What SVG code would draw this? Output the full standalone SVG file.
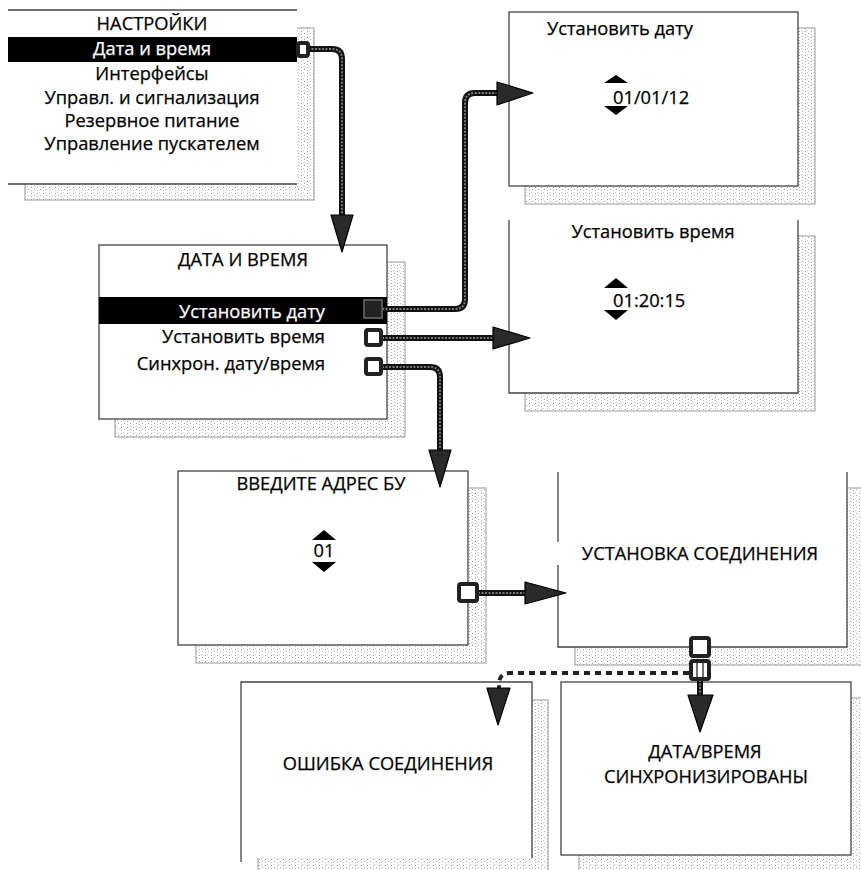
<svg xmlns="http://www.w3.org/2000/svg" width="861" height="870" viewBox="0 0 861 870">
<style>
  .t{font-family:"Open Sans","Liberation Sans",sans-serif;font-size:18.3px;fill:#000;stroke:#000;stroke-width:0.25}
  .tt{font-family:"Open Sans","Liberation Sans",sans-serif;font-size:18.3px;fill:#000;stroke:#000;stroke-width:0.25}
  .w{fill:#fff;stroke:#fff}
  .mid{text-anchor:middle}
  .end{text-anchor:end}
  .box{fill:#fff;stroke:#444;stroke-width:1.3}
  .bg{fill:#fff;stroke:none}
  .edge{fill:none;stroke:#444;stroke-width:1.3}
  .shadow{fill:url(#dots);stroke:#999;stroke-width:1}
  .bar{fill:#000}
  .tri{fill:#000}
  .lineO{fill:none;stroke:#111;stroke-width:6;stroke-linejoin:round}
  .lineI{fill:none;stroke:#777;stroke-width:2;stroke-dasharray:2 1.5}
  .head{fill:#2a2a2a;stroke:#000;stroke-width:1.2;stroke-linejoin:round}
  .hdl{fill:#fff;stroke:#222;stroke-width:4}
  .dash{fill:none;stroke:#222;stroke-width:4;stroke-dasharray:6 5}
</style>
<defs>
  <pattern id="dots" width="6" height="6" patternUnits="userSpaceOnUse">
    <rect width="6" height="6" fill="#fff"/>
    <rect x="1" y="1" width="1" height="1" fill="#999"/>
    <rect x="4" y="3" width="1" height="1" fill="#aaa"/>
    <rect x="1" y="4" width="1" height="1" fill="#bbb"/>
    <rect x="3" y="0" width="1" height="1" fill="#ccc"/>
  </pattern>
</defs>

<g id="settings">
  <rect class="shadow" x="25" y="28" width="289" height="172"/>
  <rect class="bg" x="8" y="10" width="289" height="174"/>
  <path class="edge" d="M8,10 H297 M8,184 H297"/>
  <rect class="bar" x="8" y="37" width="289" height="25"/>
  <text class="t mid" x="152" y="30">НАСТРОЙКИ</text>
  <text class="t mid w" x="152" y="55">Дата и время</text>
  <text class="t mid" x="152" y="80">Интерфейсы</text>
  <text class="t mid" x="152" y="104">Управл. и сигнализация</text>
  <text class="t mid" x="152" y="127">Резервное питание</text>
  <text class="t mid" x="152" y="150">Управление пускателем</text>
</g>

<g id="datetime">
  <rect class="shadow" x="115" y="262" width="290" height="175"/>
  <rect class="box" x="99" y="245" width="288" height="174"/>
  <rect class="bar" x="99" y="297" width="288" height="27"/>
  <text class="t mid" x="243" y="266">ДАТА И ВРЕМЯ</text>
  <text class="t end w" x="325" y="318">Установить дату</text>
  <text class="t end" x="325" y="343">Установить время</text>
  <text class="t end" x="325" y="370">Синхрон. дату/время</text>
</g>

<g id="setdate">
  <rect class="shadow" x="525" y="28" width="290" height="176"/>
  <rect class="box" x="509" y="12" width="289" height="174"/>
  <text class="t mid" x="620" y="35">Установить дату</text>
  <polygon class="tri" points="604,83 616,75 628,83"/>
  <text class="t" x="613" y="104">01/01/12</text>
  <polygon class="tri" points="604,106 628,106 616,115"/>
</g>

<g id="settime">
  <rect class="shadow" x="525" y="236" width="290" height="175"/>
  <rect class="bg" x="509" y="220" width="289" height="173"/>
  <path class="edge" d="M509,220 V393 H798 V220"/>
  <text class="t mid" x="653" y="238">Установить время</text>
  <polygon class="tri" points="604,288 616,278 628,288"/>
  <text class="t" x="613" y="307">01:20:15</text>
  <polygon class="tri" points="604,310 628,310 616,320"/>
</g>

<g id="address">
  <rect class="shadow" x="196" y="488" width="290" height="175"/>
  <rect class="box" x="178" y="471" width="290" height="174"/>
  <text class="t mid" x="321" y="490">ВВЕДИТЕ АДРЕС БУ</text>
  <polygon class="tri" points="312,540 324,530 336,540"/>
  <text class="t mid" x="324" y="557">01</text>
  <polygon class="tri" points="312,562 336,562 324,572"/>
</g>

<g id="connecting">
  <rect class="shadow" x="575" y="488" width="300" height="177"/>
  <rect class="bg" x="558" y="472" width="289" height="175"/>
  <path class="edge" d="M558,472 V542 M558,565 V647 H847 V472"/>
  <text class="tt mid" x="700" y="560">УСТАНОВКА СОЕДИНЕНИЯ</text>
</g>

<g id="error">
  <rect class="shadow" x="258" y="700" width="290" height="180"/>
  <rect class="bg" x="241" y="682" width="291" height="176"/>
  <path class="edge" d="M241,862 V682 H532 V858"/>
  <text class="tt mid" x="388" y="770">ОШИБКА СОЕДИНЕНИЯ</text>
</g>

<g id="synced">
  <rect class="shadow" x="579" y="698" width="300" height="180"/>
  <rect class="box" x="561" y="682" width="290" height="173"/>
  <text class="tt mid" x="705" y="758">ДАТА/ВРЕМЯ</text>
  <text class="tt mid" x="706" y="783">СИНХРОНИЗИРОВАНЫ</text>
</g>

<g id="connectors">
  <path class="lineO" d="M308,49 H332 Q342,49 342,59 V216"/>
  <path class="lineI" d="M308,49 H332 Q342,49 342,59 V216"/>
  <polygon class="head" points="331,215 353,215 342,252"/>
  <rect class="hdl" x="298" y="43" width="10" height="13" rx="2"/>

  <path class="lineO" d="M382,309 H455 Q465,309 465,299 V103 Q465,93 475,93 H498"/>
  <path class="lineI" d="M382,309 H455 Q465,309 465,299 V103 Q465,93 475,93 H498"/>
  <polygon class="head" points="497,82 497,105 533,93"/>
  <rect x="364" y="300" width="18" height="18" fill="#222" stroke="#555" stroke-width="2"/>

  <path class="lineO" d="M382,338 H494"/>
  <path class="lineI" d="M382,338 H494"/>
  <polygon class="head" points="493,327 493,349 530,338"/>
  <rect class="hdl" x="366" y="330" width="15" height="15" rx="2"/>

  <path class="lineO" d="M382,367 H430 Q440,367 440,377 V451"/>
  <path class="lineI" d="M382,367 H430 Q440,367 440,377 V451"/>
  <polygon class="head" points="429,450 451,450 440,487"/>
  <rect class="hdl" x="366" y="359" width="15" height="15" rx="2"/>

  <path class="lineO" d="M478,593 H526"/>
  <path class="lineI" d="M478,593 H526"/>
  <polygon class="head" points="525,582 525,604 566,593"/>
  <rect class="hdl" x="459" y="584" width="18" height="17" rx="2"/>

  <path class="dash" d="M689,673 H510 Q499,673 499,684 V689"/>
  <polygon class="head" points="487,688 510,688 498,725"/>

  <path class="lineO" d="M700,680 V696"/>
  <path class="lineI" d="M700,680 V696"/>
  <polygon class="head" points="688,695 713,695 700,732"/>
  <rect class="hdl" x="691" y="638" width="18" height="18" rx="2"/>
  <rect class="hdl" x="691" y="661" width="18" height="18" rx="2"/>
  <path d="M697,663 V677 M703,663 V677" stroke="#444" stroke-width="1.5"/>
</g>
</svg>
